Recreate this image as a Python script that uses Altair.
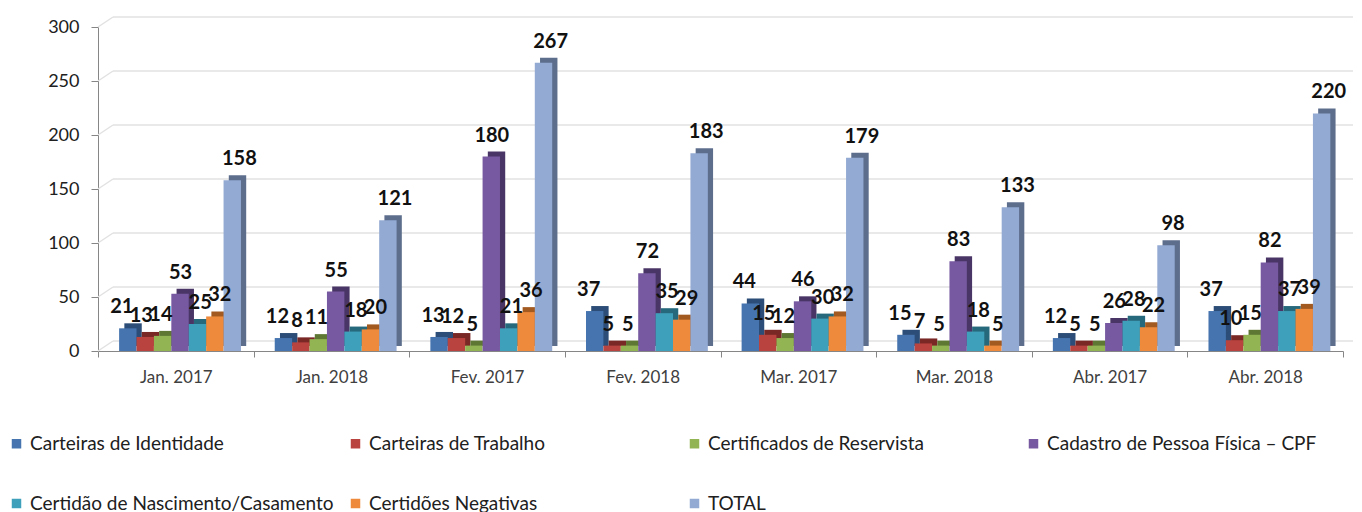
import altair as alt
import pandas as pd

months = ["Jan. 2017", "Jan. 2018", "Fev. 2017", "Fev. 2018",
          "Mar. 2017", "Mar. 2018", "Abr. 2017", "Abr. 2018"]
series = ["Carteiras de Identidade", "Carteiras de Trabalho", "Certificados de Reservista",
          "Cadastro de Pessoa Física – CPF", "Certidão de Nascimento/Casamento",
          "Certidões Negativas", "TOTAL"]
identidade = [21, 12, 13, 37, 44, 15, 12, 37]
trabalho = [13, 8, 12, 5, 15, 7, 5, 10]
reservista = [14, 11, 5, 5, 12, 5, 5, 15]
cpf = [53, 55, 180, 72, 46, 83, 26, 82]
nascimento = [25, 18, 21, 35, 30, 18, 28, 37]
negativas = [32, 20, 36, 29, 32, 5, 22, 39]
total = [158, 121, 267, 183, 179, 133, 98, 220]
y_ticks = [0, 50, 100, 150, 200, 250, 300]

front_colors = ["#4674AF", "#B9433F", "#93B452", "#7659A0", "#3FA0BB", "#EE8A3C", "#93AAD3"]
side_colors = ["#2C4D77", "#7A2826", "#5E7834", "#4A3666", "#27697C", "#A35A20", "#5D6E8C"]

rows = []
for s, vals in zip(series, [identidade, trabalho, reservista, cpf, nascimento, negativas, total]):
    for m, v in zip(months, vals):
        rows.append({"month": m, "series": s, "value": v})
df = pd.DataFrame(rows)
grid_df = pd.DataFrame({"v": y_ticks})

W, H = 1245, 324
FONT = "Lato, Liberation Sans, sans-serif"

y_scale = alt.Scale(domain=[0, 300], nice=False)
y_axis = alt.Axis(title=None, values=y_ticks, grid=False, domainColor="#868686",
                  tickColor="#868686", tickSize=7, labelFontSize=18,
                  labelColor="#202020", labelPadding=12, labelFont=FONT)

x_enc = alt.X("month:N", sort=months,
              scale=alt.Scale(paddingInner=0, paddingOuter=0),
              axis=alt.Axis(title=None, labelAngle=0, tickBand="extent", grid=False,
                            domainColor="#868686", tickColor="#868686", tickSize=6,
                            labelFontSize=17, labelColor="#404040", labelPadding=12,
                            labelFont=FONT))
y_enc = alt.Y("value:Q", scale=y_scale, axis=y_axis)

def xoff(align):
    return alt.XOffset("series:N", sort=series,
                       scale=alt.Scale(paddingInner=0, paddingOuter=0.97, align=align))

grid = alt.Chart(grid_df).mark_rule(color="#E2E2E2", strokeWidth=1.5, yOffset=-10, y2Offset=-10).encode(
    y=alt.Y("v:Q", scale=y_scale, axis=y_axis),
    y2="v:Q", x=alt.value(15), x2=alt.value(W + 10))
grid_slant = alt.Chart(grid_df).mark_rule(color="#E2E2E2", strokeWidth=1.5, y2Offset=-10).encode(
    y=alt.Y("v:Q", scale=y_scale, axis=y_axis),
    y2="v:Q", x=alt.value(0), x2=alt.value(15))

back = alt.Chart(df).mark_bar(yOffset=-5, y2Offset=-5).encode(
    x=x_enc, y=y_enc, xOffset=xoff(0.78),
    color=alt.Color("series:N", sort=series,
                    scale=alt.Scale(domain=series, range=side_colors), legend=None))

front = alt.Chart(df).mark_bar().encode(
    x=x_enc, y=y_enc, xOffset=xoff(0.625),
    color=alt.Color("series:N", sort=series,
                    scale=alt.Scale(domain=series, range=front_colors),
                    legend=alt.Legend(title=None, orient="none", legendX=-91, legendY=407,
                                      direction="horizontal",
                                      columns=4, gridAlign="all", columnPadding=12,
                                      rowPadding=40, symbolType="square", symbolSize=90,
                                      symbolStrokeWidth=0, labelFontSize=19,
                                      labelFont=FONT, labelColor="#202020",
                                      labelLimit=400, symbolOffset=0)))

labels = alt.Chart(df).mark_text(baseline="bottom", dy=-11, fontSize=20, fontWeight="bold",
                                 font=FONT, color="#111111").encode(
    x=x_enc, y=y_enc, xOffset=xoff(0.625), text="value:Q")

chart = alt.layer(grid, grid_slant, back, front, labels).resolve_scale(
    xOffset="independent", color="independent"
).properties(
    width=W, height=H,
    autosize=alt.AutoSizeParams(type="none"),
    padding={"left": 90, "top": 19, "right": 11, "bottom": 180},
).configure_view(stroke=None)

chart.save("out.html", embed_options={"renderer": "svg", "actions": False})
